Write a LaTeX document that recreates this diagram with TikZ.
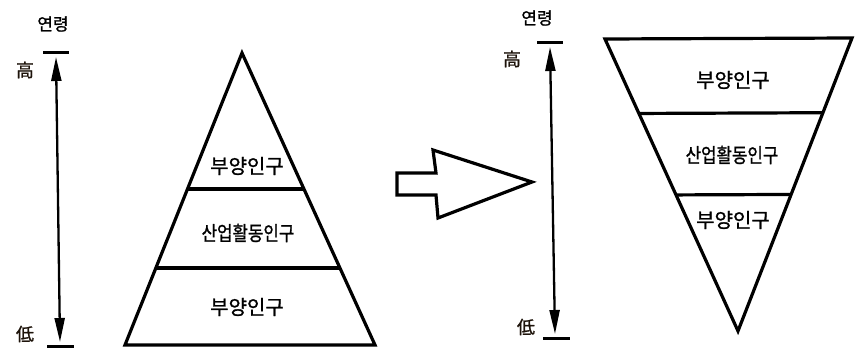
\documentclass[tikz,border=0pt]{standalone}
\usepackage{fontspec}
\newfontfamily\kr[FakeBold=1.2]{Noto Sans CJK KR}
\usetikzlibrary{arrows.meta,calc}
\tikzset{
  shape line/.style={line width=3.2pt,line join=miter},
  bar/.style={line width=3pt},
  axis arrow/.style={line width=2.3pt,{Stealth[length=24pt,width=10pt,inset=0pt]}-{Stealth[length=24pt,width=10pt,inset=0pt]}},
  lab/.style={font=\kr\fontsize{20}{20}\selectfont,inner sep=0pt},
  agelab/.style={font=\kr\fontsize{17}{17}\selectfont,inner sep=0pt},
  hanja/.style={font=\kr\fontsize{18}{18}\selectfont,inner sep=0pt,text=black!85!brown}
}
\begin{document}
\begin{tikzpicture}[x=1pt,y=-1pt]
\useasboundingbox (0,0) rectangle (855,350);
% ---- left age axis
\coordinate (lt) at (56,53);
\coordinate (lb) at (60,346);
\draw[bar] ($(lt)+(-13,0)$) -- ($(lt)+(13,0)$);
\draw[bar] ($(lb)+(-13,0)$) -- ($(lb)+(14,0)$);
\draw[axis arrow] ($(lt)+(0,4)$) -- ($(lb)+(0,-4)$);
\node[agelab] (lage) at (53,24) {연령};
\node[hanja] (lhigh) at (25,70) {高};
\node[hanja] (llow) at (25,334) {低};
% ---- left pyramid
\coordinate (apex) at (242,53);
\coordinate (bl) at (125,345);
\coordinate (br) at (375,345);
\draw[shape line] (apex) -- (br) -- (bl) -- cycle;
\draw[shape line] ($(apex)!0.466!(bl)$) -- ($(apex)!0.466!(br)$);
\draw[shape line] ($(apex)!0.736!(bl)$) -- ($(apex)!0.736!(br)$);
\node[lab] (l1) at (247,166) {부양인구};
\node[lab] (l2) at (248,233) {\scalebox{0.84}[1]{산업활동인구}};
\node[lab] (l3) at (247,307) {부양인구};
% ---- block arrow
\draw[shape line,fill=white] (397,173) -- (436,173) -- (433,150) -- (532,182) -- (438,218) -- (436,195) -- (397,195) -- cycle;
% ---- right age axis
\coordinate (rt) at (550,43);
\coordinate (rb) at (555,338);
\draw[bar] ($(rt)+(-13,0)$) -- ($(rt)+(13,0)$);
\draw[bar] ($(rb)+(-12,0)$) -- ($(rb)+(15,0)$);
\draw[axis arrow] ($(rt)+(0,4)$) -- ($(rb)+(0,-4)$);
\node[agelab] (rage) at (537,18) {연령};
\node[hanja] (rhigh) at (512,59) {高};
\node[hanja] (rlow) at (526,327) {低};
% ---- right inverted pyramid
\coordinate (tip) at (738,331);
\coordinate (tl) at (605,39);
\coordinate (tr) at (852,38);
\draw[shape line] (tl) -- (tr) -- (tip) -- cycle;
\draw[shape line] ($(tip)!0.745!(tl)$) -- ($(tip)!0.745!(tr)$);
\draw[shape line] ($(tip)!0.466!(tl)$) -- ($(tip)!0.466!(tr)$);
\node[lab] (r1) at (733,80) {부양인구};
\node[lab] (r2) at (732,155) {\scalebox{0.84}[1]{산업활동인구}};
\node[lab] (r3) at (733,220) {부양인구};
\end{tikzpicture}
\end{document}
